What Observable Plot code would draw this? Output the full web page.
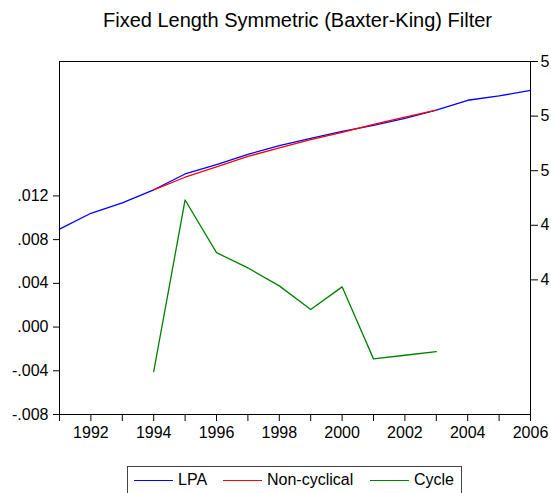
<!DOCTYPE html>
<html>
<head>
<meta charset="utf-8">
<script src="https://cdn.jsdelivr.net/npm/d3@7"></script>
<script src="https://cdn.jsdelivr.net/npm/@observablehq/plot@0.6"></script>
<style>
  html, body { margin: 0; padding: 0; background: #fff; }
  #wrap { position: relative; width: 551px; height: 493px; overflow: hidden; font-family: "Liberation Sans", Arial, sans-serif; }
  #title { height: 40px; box-sizing: border-box; padding-top: 10px; padding-left: 44px; text-align: center; font-size: 20px; line-height: 1; color: #000; }
  #legend { position: relative; margin-top: 22px; margin-left: 127px; width: 335px; height: 32px; border: 1px solid #444; box-sizing: border-box; }
  .item { position: absolute; top: 0; height: 26px; display: flex; align-items: center; font-size: 16px; color: #000; }
  .item span.ln { display: inline-block; width: 39px; height: 0; border-top: 1.5px solid; margin-right: 5px; }
</style>
</head>
<body>
<div id="wrap">
  <div id="title">Fixed Length Symmetric (Baxter-King) Filter</div>
  <div id="chart"></div>
  <div id="legend"></div>
</div>
<script>
// ---- data ----
const years = [1991, 1992, 1993, 1994, 1995, 1996, 1997, 1998, 1999, 2000, 2001, 2002, 2003, 2004, 2005, 2006];
const lpa = [4.893, 4.922, 4.941, 4.965, 4.994, 5.011, 5.030, 5.046, 5.059, 5.072, 5.083, 5.096, 5.111, 5.129, 5.137, 5.147];
const filterYears = [1994, 1995, 1996, 1997, 1998, 1999, 2000, 2001, 2002, 2003];
const nonCyclical = [4.965, 4.988, 5.007, 5.026, 5.042, 5.057, 5.070, 5.085, 5.098, 5.111];
const cycle = [-0.00407, 0.01163, 0.00681, 0.00541, 0.00377, 0.0016, 0.00368, -0.00291, -0.00258, -0.00224];

const leftDomain = [-0.008, 0.0243];
const leftTicks = [-0.008, -0.004, 0, 0.004, 0.008, 0.012];
const leftTickLabels = ["-.008", "-.004", ".000", ".004", ".008", ".012"];
const rightDomain = [4.5534, 5.2];
const rightTicks = [5.2, 5.1, 5.0, 4.9, 4.8];
const rightTickLabels = ["5", "5", "5", "4", "4"];

const seriesNames = ["LPA", "Non-cyclical", "Cycle"];
const seriesColors = ["#0000ff", "#ff0000", "#008000"];

// map right-axis values into the left (primary) scale's units
const toLeft = r => leftDomain[0] + (r - rightDomain[0]) / (rightDomain[1] - rightDomain[0]) * (leftDomain[1] - leftDomain[0]);

const lpaData = years.map((x, i) => ({x, y: toLeft(lpa[i])}));
const ncData = filterYears.map((x, i) => ({x, y: toLeft(nonCyclical[i])}));
const cycData = filterYears.map((x, i) => ({x, y: cycle[i]}));

const rightTickPos = rightTicks.map(toLeft);
const rightLabelMap = new Map(rightTickPos.map((p, i) => [p, rightTickLabels[i]]));
const leftLabelMap = new Map(leftTicks.map((p, i) => [p, leftTickLabels[i]]));

const chart = Plot.plot({
  width: 551,
  height: 404,
  marginLeft: 59,
  marginRight: 21,
  marginTop: 21,
  marginBottom: 30,
  style: { fontFamily: "'Liberation Sans', Arial, sans-serif", fontSize: "16px", color: "#000", background: "#fff" },
  x: { domain: [1991, 2006] },
  y: { domain: leftDomain },
  marks: [
    Plot.line(cycData, { x: "x", y: "y", stroke: seriesColors[2], strokeWidth: 1.3 }),
    Plot.line(lpaData, { x: "x", y: "y", stroke: seriesColors[0], strokeWidth: 1.3 }),
    Plot.line(ncData, { x: "x", y: "y", stroke: seriesColors[1], strokeWidth: 1.3 }),
    Plot.frame({ stroke: "#000", strokeWidth: 1 }),
    Plot.axisY(leftTicks, { anchor: "left", tickSize: 6, tickPadding: 5, label: null, tickFormat: d => leftLabelMap.get(d), stroke: "#000" }),
    Plot.axisY(rightTickPos, { anchor: "right", tickSize: 7, tickPadding: 3, label: null, tickFormat: d => rightLabelMap.get(d), stroke: "#000" }),
    Plot.axisX(years, { anchor: "bottom", tickSize: 7, tickPadding: 5, label: null, tickFormat: d => (d % 2 === 0 ? String(d) : ""), stroke: "#000" })
  ]
});
document.getElementById("chart").appendChild(chart);

const legend = document.getElementById("legend");
const legendLeft = [6, 95, 242];
seriesNames.forEach((name, i) => {
  const it = document.createElement("div");
  it.className = "item";
  it.style.left = legendLeft[i] + "px";
  const ln = document.createElement("span");
  ln.className = "ln";
  ln.style.borderTopColor = seriesColors[i];
  it.appendChild(ln);
  it.appendChild(document.createTextNode(name));
  legend.appendChild(it);
});
</script>
</body>
</html>
